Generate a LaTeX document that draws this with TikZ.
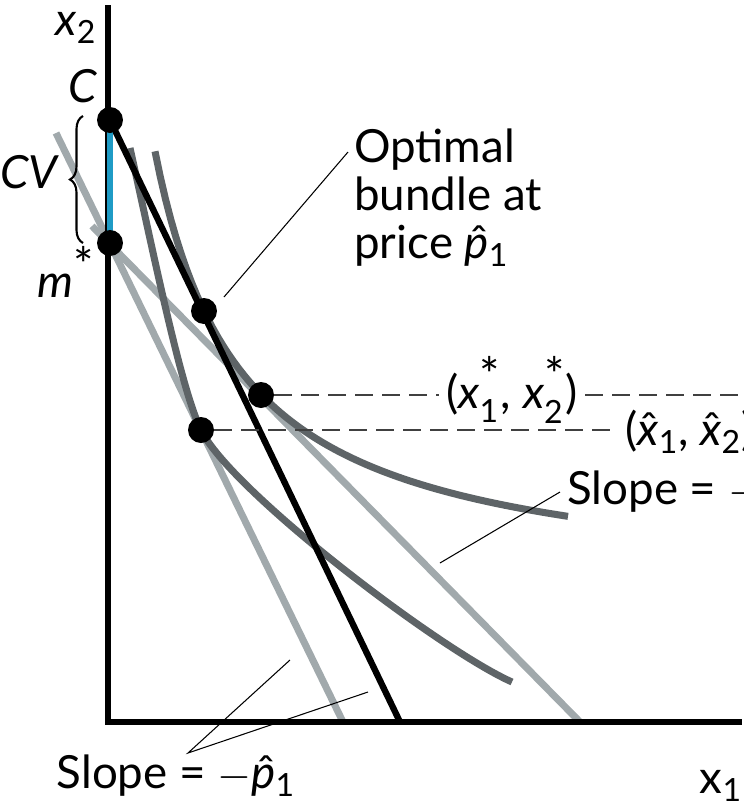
\documentclass[tikz,border=0pt]{standalone}
\usepackage{amsmath}
\usepackage{graphicx}
\usepackage{fontspec}
\setmainfont{Lato}
\usetikzlibrary{positioning,calc,decorations.pathreplacing}
\definecolor{cvBlue}{HTML}{1F9BC5}
\definecolor{cvDark}{HTML}{5E6467}
\definecolor{cvLight}{HTML}{A1A9AC}
\newcommand{\hatp}{\^{\textit{p}}\textsubscript{\upshape 1}}
\newcommand{\bigstar}{\scalebox{1.5}{*}}
\newcommand{\starvar}[1]{$\text{\itshape x}^{\text{\bigstar}}_{\text{\upshape #1}}$}
\tikzset{
  lbl/.style={font=\fontsize{26}{27.5}\selectfont, inner sep=0pt},
  dot/.style={circle, fill=black, inner sep=0pt, minimum size=0.52cm},
  axis/.style={line width=2.9pt, black},
  budget/.style={line width=3.6pt, black},
  oldbudget/.style={line width=4pt, draw=cvLight},
  indiff/.style={line width=4pt, draw=cvDark},
  leader/.style={line width=0.6pt, black},
  dashline/.style={line width=1.1pt, dash pattern=on 0.36cm off 0.18cm, black!75}
}

\begin{document}
\begin{tikzpicture}[x=0.02cm, y=-0.02cm]
  \useasboundingbox (0,0) rectangle (744,809);

  % points
  \coordinate (pC) at (110,120);
  \coordinate (pm) at (110,243);
  \coordinate (popt) at (204,311);
  \coordinate (pstar) at (261,395);
  \coordinate (phat) at (201,430);

  % budget lines
  \draw[oldbudget] (56,133) -- (343,722);
  \draw[oldbudget] (92,226) -- (580,722);

  % indifference curves
  \draw[indiff] plot[domain=155:568, samples=80] (\x, {592.8-381.89/((\x-68.5)/100)});
  \draw[indiff] (130,148) .. controls (155,260) and (181,389) .. (phat)
    .. controls (231,491) and (440,650) .. (512,682);

  \draw[budget] (pC) -- (400,722);

  % axes
  \draw[axis] (108,5) -- (108,722) -- (742,722);
  \draw[line width=3.6pt, cvBlue] (pC) -- (pm);
  \draw[line width=1.2pt, decorate, decoration={brace, amplitude=0.26cm}] (83,243) -- (83,116);

  \node[dot] (C) at (pC) {};
  \node[dot] (mstar) at (pm) {};
  \node[dot] (opt) at (popt) {};
  \node[dot] (xstar) at (pstar) {};
  \node[dot] (xhat) at (phat) {};

  % labels
  \node[lbl] (x2lbl) at (76,28) {\textit{x}\textsubscript{2}};
  \node[lbl] (x1lbl) at (721,786) {x\textsubscript{1}};
  \node[lbl] (Clbl) at (83,86) {\textit{C}};
  \node[lbl] (CVlbl) at (30,172) {\textit{CV}};
  \node[lbl] (mlbl) at (66,272) {\textit{m}\textsuperscript{\bigstar}};
  \node[lbl, align=left, anchor=north west] (optlbl) at (354,128) {Optimal\\bundle at\\price \hatp};
  \node[lbl, inner sep=4pt] (xstarlbl) at (512,390)
    {(\starvar{1}, \starvar{2})};
  \node[lbl, inner sep=4pt, anchor=west] (xhatlbl) at (618,432)
    {(\^{\textit{x}}\textsubscript{1}, \^{\textit{x}}\textsubscript{2})};
  \node[lbl, anchor=west] (slopeR) at (567,492) {Slope = $-$\textit{p}\textsubscript{1}};
  \node[lbl] (slopeB) at (176,776) {Slope = $-$\hatp};

  % leaders
  \coordinate (optfoot) at (224,297);
  \coordinate (opttip) at (348,152);
  \draw[leader] (optfoot) -- (opttip);
  \coordinate (slopeRfoot) at (440,563);
  \coordinate (slopeRtip) at (560,492);
  \draw[leader] (slopeRfoot) -- (slopeRtip);
  \coordinate (slopevert) at (188,753);
  \coordinate (steepfoot) at (290,660);
  \coordinate (blackfoot) at (368,692);
  \draw[leader] (steepfoot) -- (slopevert) -- (blackfoot);

  % dashed guides
  \coordinate (rightedge) at (744,395);
  \draw[dashline] (xstar) -- (xstar -| xstarlbl.west);
  \draw[dashline] (xstar -| xstarlbl.east) -- (rightedge);
  \draw[dashline] (xhat) -- (xhat -| xhatlbl.west);
\end{tikzpicture}
\end{document}
